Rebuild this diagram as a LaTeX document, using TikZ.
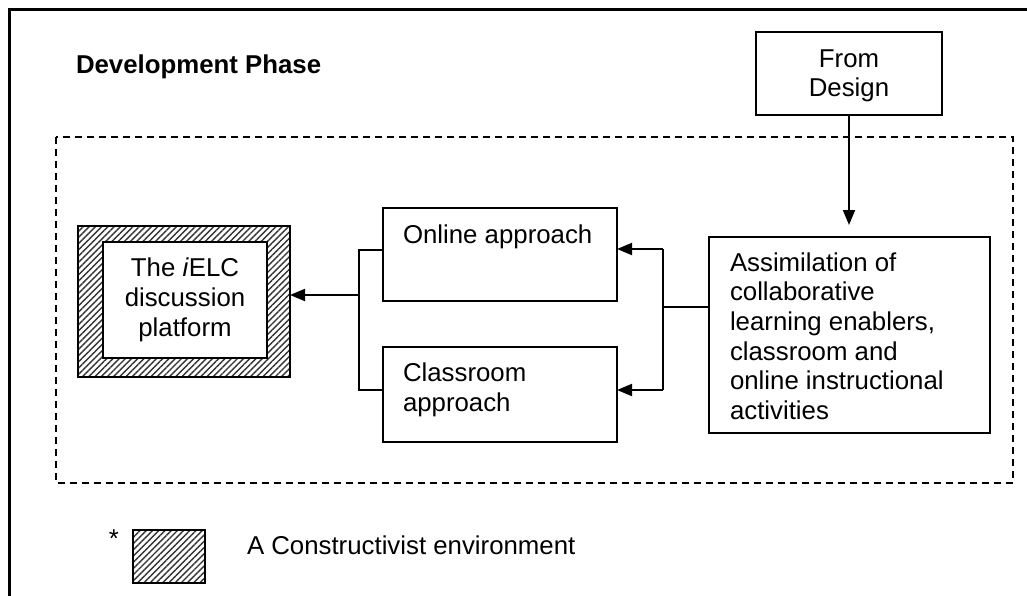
\documentclass[tikz,border=0pt]{standalone}
\usepackage{fontspec}
\setmainfont{Liberation Sans}
\usetikzlibrary{arrows.meta,patterns.meta}

\newcommand{\bodysize}{\fontsize{25.8pt}{29.7pt}\selectfont}

\tikzset{
  every node/.style={font=\bodysize, inner sep=0pt, outer sep=0pt},
  box/.style={draw, line width=1.9pt, anchor=north west},
  hatched/.style={box, pattern={Lines[angle=45,distance=4.4pt,line width=1.4pt]}, pattern color=black!80},
  wire/.style={line width=1.9pt},
  arr/.style={wire, -{Triangle[length=15pt,width=12pt]}},
  % multi-line texts are placed by the baseline of their last line
  txt/.style={align=left, anchor=base west},
  ctxt/.style={align=center, anchor=base},
  frame/.style={line width=2.4pt},
  phase/.style={line width=1.9pt, dash pattern=on 7pt off 5pt}
}

\begin{document}
\begin{tikzpicture}[x=1pt, y=-1pt]
  \useasboundingbox (0,0) rectangle (1027,596);

  % outer frame (top and left edges)
  \draw[frame] (9.5,596) -- (9.5,9.5) -- (1027,9.5);

  % heading
  \node[txt, font=\bodysize\bfseries] (title) at (76,74) {Development Phase};

  % phase boundary
  \draw[phase] (56,137) rectangle (1013,483);

  % boxes
  \node[box, minimum width=186pt, minimum height=83pt] (design) at (756,32) {};
  \node[ctxt] (designtxt) at (849,97) {From\\Design};

  \node[box, minimum width=281pt, minimum height=196pt] (assim) at (709,237) {};
  \node[txt] (assimtxt) at (730,419.5) {Assimilation of\\collaborative\\learning enablers,\\classroom and\\online instructional\\activities};

  \node[box, minimum width=234pt, minimum height=93pt] (online) at (383,208) {};
  \node[txt] (onlinetxt) at (403,243) {Online approach};

  \node[box, minimum width=234pt, minimum height=95pt] (class) at (383,347) {};
  \node[txt] (classtxt) at (403,411) {Classroom\\approach};

  \node[hatched, minimum width=212pt, minimum height=151pt] (env) at (78,226) {};
  \node[box, fill=white, minimum width=164pt, minimum height=116pt] (platform) at (103,242) {};
  \node[ctxt] (platformtxt) at (185,336) {The \textit{i}ELC\\discussion\\platform};

  % connectors
  \draw[arr, shorten >=12pt] (design.south) -- (design.south |- assim.north);

  \coordinate (rj) at (663,307);
  \coordinate (rt) at (663,249);
  \coordinate (rb) at (663,390);
  \draw[wire] (assim.west |- rj) -- (rj);
  \draw[wire] (rt) -- (rb);
  \draw[arr] (rt) -- (online.east |- rt);
  \draw[arr] (rb) -- (class.east |- rb);

  \coordinate (lt) at (359,250);
  \coordinate (lb) at (359,390);
  \coordinate (lm) at (359,295);
  \draw[wire] (online.west |- lt) -- (lt) -- (lb) -- (class.west |- lb);
  \draw[arr] (lm) -- (env.east |- lm);

  % legend
  \node[ctxt] (star) at (114,547) {*};
  \node[hatched, minimum width=72pt, minimum height=53pt] (key) at (133,530) {};
  \node[txt] (keytxt) at (247,554) {A Constructivist environment};
\end{tikzpicture}
\end{document}
